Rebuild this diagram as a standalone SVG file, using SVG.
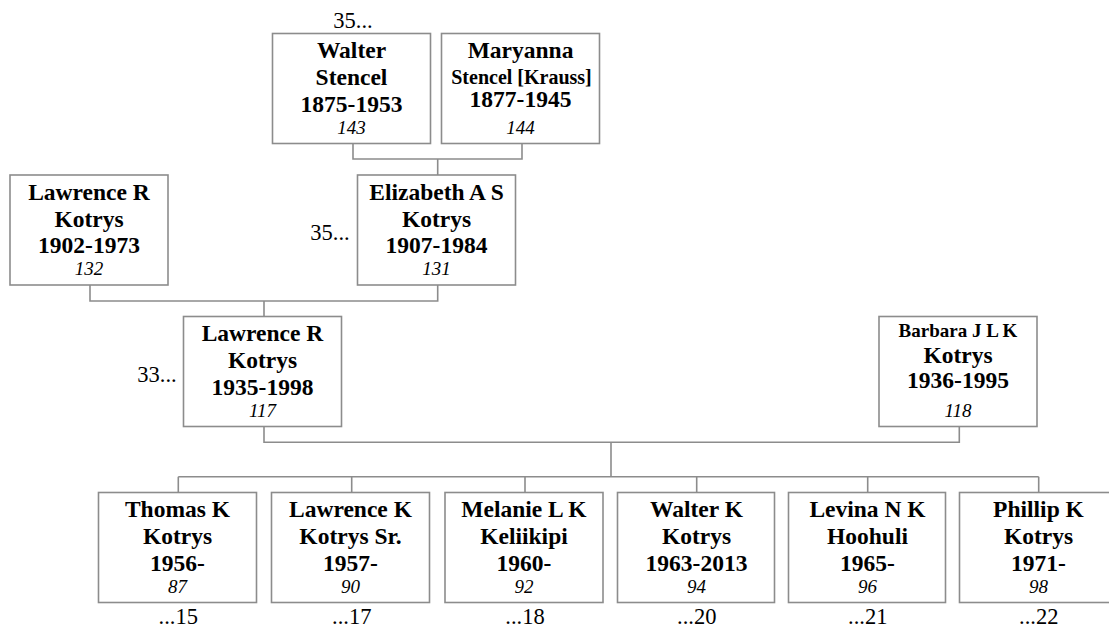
<svg xmlns="http://www.w3.org/2000/svg" width="1109" height="627" viewBox="0 0 1109 627" font-family="'Liberation Serif', 'DejaVu Serif', 'Times New Roman', serif">
<style>
.box{fill:#fff;stroke:#8c8c8c;stroke-width:1.6}
.ln{fill:none;stroke:#8c8c8c;stroke-width:1.6}
text{font-family:'Liberation Serif','DejaVu Serif','Times New Roman',serif;fill:#000;text-anchor:middle}
.b{font-weight:bold;font-size:23.5px}
.s{font-weight:bold;font-size:19px}
.m{font-weight:bold;font-size:20px}
.i{font-style:italic;font-size:19px}
.o{font-size:22.5px}
</style>
<rect width="1109" height="627" fill="#fff"/>
<g id="connectors">
<path class="ln" d="M353,143.5 V159 H522 V143.5 M437.7,159 V175"/>
<path class="ln" d="M90,285 V301 H437.7 V285 M264,301 V316.5"/>
<path class="ln" d="M264,426.5 V442.3 H959.3 V426.5 M611,442.3 V476.7"/>
<path class="ln" d="M178.3,476.7 H1038.7 M178.3,476.7 V492.5 M351.7,476.7 V492.5 M525,476.7 V492.5 M696.7,476.7 V492.5 M867.7,476.7 V492.5 M1038.7,476.7 V492.5"/>
</g>
<g id="n143" transform="translate(272.5,33.5)">
<rect class="box" width="158" height="110"/>
<text class="b" x="79" y="24.5">Walter</text>
<text class="b" x="79" y="51.5">Stencel</text>
<text class="b" x="79" y="78">1875-1953</text>
<text class="i" x="79" y="100">143</text>
</g>
<text class="o" x="353" y="28">35...</text>
<g id="n144" transform="translate(441.5,33.5)">
<rect class="box" width="158" height="110"/>
<text class="b" x="79" y="24">Maryanna</text>
<text class="m" x="80" y="50">Stencel [Krauss]</text>
<text class="b" x="79" y="73.5">1877-1945</text>
<text class="i" x="79" y="100">144</text>
</g>
<g id="n132" transform="translate(10,175)">
<rect class="box" width="158" height="110"/>
<text class="b" x="79" y="24.5">Lawrence R</text>
<text class="b" x="79" y="51.5">Kotrys</text>
<text class="b" x="79" y="78">1902-1973</text>
<text class="i" x="79" y="100">132</text>
</g>
<g id="n131" transform="translate(357.5,175)">
<rect class="box" width="158" height="110"/>
<text class="b" x="79" y="24.5">Elizabeth A S</text>
<text class="b" x="79" y="51.5">Kotrys</text>
<text class="b" x="79" y="78">1907-1984</text>
<text class="i" x="79" y="100">131</text>
</g>
<text class="o" x="330" y="240">35...</text>
<g id="n117" transform="translate(183.5,316.5)">
<rect class="box" width="158" height="110"/>
<text class="b" x="79" y="24.5">Lawrence R</text>
<text class="b" x="79" y="51.5">Kotrys</text>
<text class="b" x="79" y="78">1935-1998</text>
<text class="i" x="79" y="100">117</text>
</g>
<text class="o" x="157" y="381.5">33...</text>
<g id="n118" transform="translate(879,316.5)">
<rect class="box" width="158" height="110"/>
<text class="s" x="79" y="20">Barbara J L K</text>
<text class="b" x="79" y="46">Kotrys</text>
<text class="b" x="79" y="71.5">1936-1995</text>
<text class="i" x="79" y="100.5">118</text>
</g>
<g id="n87" transform="translate(98.5,492.5)">
<rect class="box" width="158" height="110"/>
<text class="b" x="79" y="24">Thomas K</text>
<text class="b" x="79" y="51">Kotrys</text>
<text class="b" x="79" y="78">1956-</text>
<text class="i" x="79" y="100.5">87</text>
</g>
<g id="n90" transform="translate(271.5,492.5)">
<rect class="box" width="158" height="110"/>
<text class="b" x="79" y="24">Lawrence K</text>
<text class="b" x="79" y="51">Kotrys Sr.</text>
<text class="b" x="79" y="78">1957-</text>
<text class="i" x="79" y="100.5">90</text>
</g>
<g id="n92" transform="translate(445,492.5)">
<rect class="box" width="158" height="110"/>
<text class="b" x="79" y="24">Melanie L K</text>
<text class="b" x="79" y="51">Keliikipi</text>
<text class="b" x="79" y="78">1960-</text>
<text class="i" x="79" y="100.5">92</text>
</g>
<g id="n94" transform="translate(617.5,492.5)">
<rect class="box" width="157" height="110"/>
<text class="b" x="79" y="24">Walter K</text>
<text class="b" x="79" y="51">Kotrys</text>
<text class="b" x="79" y="78">1963-2013</text>
<text class="i" x="79" y="100.5">94</text>
</g>
<g id="n96" transform="translate(788.5,492.5)">
<rect class="box" width="157" height="110"/>
<text class="b" x="79" y="24">Levina N K</text>
<text class="b" x="79" y="51">Hoohuli</text>
<text class="b" x="79" y="78">1965-</text>
<text class="i" x="79" y="100.5">96</text>
</g>
<g id="n98" transform="translate(959.5,492.5)">
<rect class="box" width="158" height="110"/>
<text class="b" x="79" y="24">Phillip K</text>
<text class="b" x="79" y="51">Kotrys</text>
<text class="b" x="79" y="78">1971-</text>
<text class="i" x="79" y="100.5">98</text>
</g>
<g id="descendants">
<text class="o" x="178.3" y="623.5">...15</text>
<text class="o" x="351.7" y="623.5">...17</text>
<text class="o" x="525" y="623.5">...18</text>
<text class="o" x="696.7" y="623.5">...20</text>
<text class="o" x="867.7" y="623.5">...21</text>
<text class="o" x="1038.7" y="623.5">...22</text>
</g>
</svg>
